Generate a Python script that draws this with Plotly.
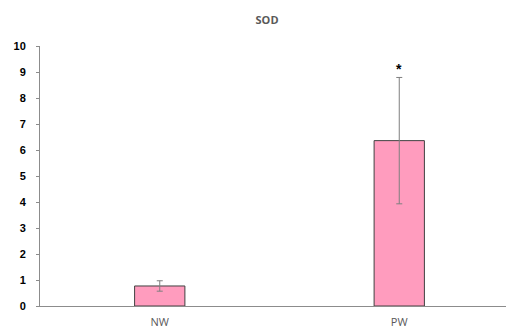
import plotly.graph_objects as go

categories = ["NW", "PW"]
values = [0.77, 6.36]
errors = [0.2, 2.43]
sig_labels = ["", "*"]
y_ticks = [0, 1, 2, 3, 4, 5, 6, 7, 8, 9, 10]

fig = go.Figure()
fig.add_trace(go.Bar(
    x=[0, 1], y=values,
    width=0.21,
    marker=dict(color="#FF9CBE", line=dict(color="#404040", width=1)),
    error_y=dict(type="data", array=errors, visible=True, color="#7f7f7f",
                 thickness=1, width=3),
    hoverinfo="skip",
))

for i, lab in enumerate(sig_labels):
    if lab:
        fig.add_annotation(x=i, y=values[i] + errors[i], text=lab, showarrow=False,
                           yshift=8, font=dict(size=14, color="#000000",
                                               family="Liberation Sans", weight="bold"))

fig.update_layout(
    width=514, height=330,
    margin=dict(l=32, r=3, t=38, b=32, autoexpand=False),
    paper_bgcolor="white", plot_bgcolor="white",
    showlegend=False,
    title=dict(text="SOD", x=0.504, xanchor="center", y=0.964, yanchor="middle",
               automargin=False,
               font=dict(size=11, color="#595959", family="Open Sans", weight="bold")),
    font=dict(family="Liberation Sans"),
)
fig.update_xaxes(
    range=[-0.5, 1.5], automargin=False,
    tickmode="array", tickvals=[0, 1], ticktext=categories,
    showline=True, linecolor="#8c8c8c", linewidth=1,
    showgrid=False, zeroline=False, ticks="",
    tickfont=dict(size=11, color="#595959", family="Open Sans"),
    ticklabelstandoff=6,
)
fig.update_yaxes(
    range=[0, 10], automargin=False,
    tickmode="array", tickvals=y_ticks,
    showline=True, linecolor="#8c8c8c", linewidth=1,
    showgrid=False, zeroline=False,
    ticks="outside", ticklen=3, tickcolor="#8c8c8c",
    tickfont=dict(size=11, color="#000000", family="Liberation Sans", weight="bold"),
    ticklabelstandoff=8,
)

fig.write_html("out.html")
